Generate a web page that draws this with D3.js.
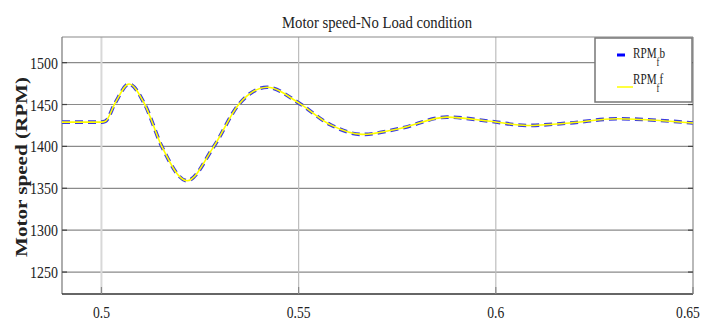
<!DOCTYPE html>
<html>
<head>
<meta charset="utf-8">
<script src="https://cdn.jsdelivr.net/npm/d3@7"></script>
<style>
  body { margin: 0; background: #fff; }
  svg { display: block; }
  text { font-family: "Liberation Serif", "DejaVu Serif", serif; fill: #222; }
</style>
</head>
<body>
<div id="chart"></div>
<script>
// czas symulacji [s]
const time = [0.49, 0.5, 0.501, 0.5035, 0.507, 0.511, 0.5153, 0.5217, 0.5285, 0.5348, 0.542, 0.55, 0.558, 0.5661, 0.5757, 0.5876, 0.5986, 0.6079, 0.6188, 0.6307, 0.6416, 0.65];
// predkosc silnika - seria RPM_f b (niebieska przerywana)
const rpmFb = [1429, 1429, 1430, 1452, 1474.5, 1450, 1400, 1359, 1400, 1450, 1470.6, 1452, 1426, 1414.3, 1421.4, 1435, 1430, 1425, 1428, 1433, 1431, 1428];
// predkosc silnika - seria RPM_f f (zolta ciagla)
const rpmFf = [1429, 1429, 1430, 1452, 1474.5, 1450, 1400, 1359, 1400, 1450, 1470.6, 1452, 1426, 1414.3, 1421.4, 1435, 1430, 1425, 1428, 1433, 1431, 1428];
const xTicks = [0.5, 0.55, 0.6, 0.65];
const xTickLabels = ["0.5", "0.55", "0.6", "0.65"];
const yTicks = [1250, 1300, 1350, 1400, 1450, 1500];
const title = "Motor speed-No Load condition";
const yLabel = "Motor speed (RPM)";

const W = 705, H = 324;
const m = {left: 62, right: 12, top: 37, bottom: 30};

const svg = d3.select("#chart").append("svg")
  .attr("width", W).attr("height", H);

const x = d3.scaleLinear().domain([0.49, 0.65]).range([m.left, W - m.right]);
const y = d3.scaleLinear().domain([1223.8, 1530.6]).range([H - m.bottom, m.top]);

// scisniecie tekstu (czcionka waska jak w Matlabie)
function condense(sel, f){
  sel.each(function(){
    const l = this.getComputedTextLength();
    d3.select(this).attr("textLength", l * f).attr("lengthAdjust", "spacingAndGlyphs");
  });
}

// siatka pozioma
svg.append("g").selectAll("line")
  .data(yTicks).enter().append("line")
  .attr("x1", m.left).attr("x2", W - m.right)
  .attr("y1", d => y(d)).attr("y2", d => y(d))
  .attr("stroke", "#8a8a8a").attr("stroke-width", 1.2);
// siatka pionowa
svg.append("g").selectAll("line")
  .data(xTicks.filter(d => d < 0.65)).enter().append("line")
  .attr("x1", d => x(d)).attr("x2", d => x(d))
  .attr("y1", m.top).attr("y2", H - m.bottom)
  .attr("stroke", (d, i) => i == 0 ? "#d8d8d8" : "#bdbdbd")
  .attr("stroke-width", (d, i) => i == 0 ? 2 : 1.2);

// ramka
svg.append("line").attr("x1", m.left).attr("x2", W - m.right).attr("y1", m.top).attr("y2", m.top)
  .attr("stroke", "#8a8a8a").attr("stroke-width", 1.2);
svg.append("line").attr("x1", W - m.right).attr("x2", W - m.right).attr("y1", m.top).attr("y2", H - m.bottom)
  .attr("stroke", "#8a8a8a").attr("stroke-width", 1.2);
svg.append("line").attr("x1", m.left).attr("x2", m.left).attr("y1", m.top).attr("y2", H - m.bottom)
  .attr("stroke", "#777").attr("stroke-width", 1.2);
svg.append("line").attr("x1", m.left).attr("x2", W - m.right).attr("y1", H - m.bottom).attr("y2", H - m.bottom)
  .attr("stroke", "#333").attr("stroke-width", 1.3);

// znaczniki osi
svg.append("g").selectAll("line")
  .data(yTicks).enter().append("line")
  .attr("x1", W - m.right - 5).attr("x2", W - m.right)
  .attr("y1", d => y(d)).attr("y2", d => y(d))
  .attr("stroke", "#444").attr("stroke-width", 1.2);
svg.append("g").selectAll("line")
  .data(yTicks).enter().append("line")
  .attr("x1", m.left).attr("x2", m.left + 5)
  .attr("y1", d => y(d)).attr("y2", d => y(d))
  .attr("stroke", "#444").attr("stroke-width", 1.2);
svg.append("g").selectAll("line")
  .data(xTicks).enter().append("line")
  .attr("x1", d => x(d)).attr("x2", d => x(d))
  .attr("y1", H - m.bottom - 7).attr("y2", H - m.bottom)
  .attr("stroke", "#888").attr("stroke-width", 1.2);

// etykiety osi Y
svg.append("g").selectAll("text")
  .data(yTicks).enter().append("text")
  .attr("x", m.left - 4).attr("y", d => y(d) + 6)
  .attr("text-anchor", "end")
  .style("font-size", "17px")
  .text(d => d)
  .call(condense, 0.82);
// etykiety osi X
svg.append("g").selectAll("text")
  .data(xTicks).enter().append("text")
  .attr("x", (d, i) => x(d) - (i == 3 ? 5 : 0)).attr("y", 318)
  .attr("text-anchor", "middle")
  .style("font-size", "17px")
  .text((d, i) => xTickLabels[i])
  .call(condense, 0.8);

// tytul
svg.append("text")
  .attr("x", 377).attr("y", 28)
  .attr("text-anchor", "middle")
  .style("font-size", "17px")
  .text(title)
  .attr("textLength", 190).attr("lengthAdjust", "spacingAndGlyphs");

// opis osi Y
svg.append("text")
  .attr("transform", "translate(27," + 167 + ") rotate(-90)")
  .attr("text-anchor", "middle")
  .style("font-size", "16px").style("font-weight", "bold")
  .text(yLabel)
  .attr("textLength", 180).attr("lengthAdjust", "spacingAndGlyphs");

// przebiegi
svg.append("clipPath").attr("id", "plot-clip").append("rect")
  .attr("x", m.left).attr("y", m.top).attr("width", W - m.left - m.right).attr("height", H - m.top - m.bottom);

const line = d3.line().curve(d3.curveMonotoneX).x((d, i) => x(time[i])).y(d => y(d));
const plot = svg.append("g").attr("clip-path", "url(#plot-clip)");
plot.append("path")
  .attr("d", line(rpmFb))
  .attr("fill", "none").attr("stroke", "#3a3ae0").attr("stroke-width", 3.6)
  .attr("stroke-dasharray", "8,5");
plot.append("path")
  .attr("d", line(rpmFf))
  .attr("fill", "none").attr("stroke", "#ffff00").attr("stroke-width", 1.6);

// legenda
const lg = svg.append("g");
lg.append("rect").attr("x", 595).attr("y", 38).attr("width", 97).attr("height", 64)
  .attr("fill", "#fff").attr("stroke", "#777").attr("stroke-width", 1.5);
lg.append("line").attr("x1", 617).attr("x2", 625).attr("y1", 55).attr("y2", 55)
  .attr("stroke", "#0000ff").attr("stroke-width", 3);
lg.append("line").attr("x1", 617).attr("x2", 633).attr("y1", 87).attr("y2", 87)
  .attr("stroke", "#ffff00").attr("stroke-width", 1.5);
const entries = [{y: 58, last: "b"}, {y: 84, last: "f"}];
entries.forEach(e => {
  const t = lg.append("text")
    .attr("transform", "translate(633," + e.y + ") scale(0.72,1)")
    .style("font-size", "15.5px");
  t.append("tspan").text("RPM");
  t.append("tspan").attr("dy", 8).style("font-size", "12px").text("f");
  t.append("tspan").attr("dy", -8).text(e.last);
});
</script>
</body>
</html>
